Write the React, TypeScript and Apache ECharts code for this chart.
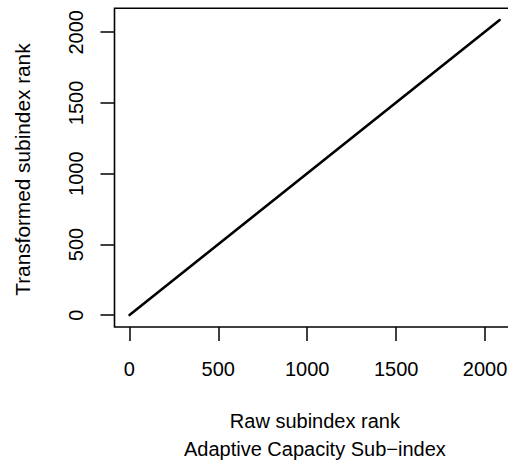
import React, { useEffect, useRef } from "react";
import * as echarts from "echarts";

const xTicks = [0, 500, 1000, 1500, 2000];
const yTicks = [0, 500, 1000, 1500, 2000];
const rawRank = [1, 2082];
const transformedRank = [1, 2086];
const xTitle = "Raw subindex rank\nAdaptive Capacity Sub\u2212index";
const yTitle = "Transformed subindex rank";

const FONT = "'Liberation Sans', Arial, Helvetica, sans-serif";
const FS = 20;

export default function App() {
  const ref = useRef<HTMLDivElement>(null);
  useEffect(() => {
    if (!ref.current) return;
    const chart = echarts.init(ref.current, undefined, { renderer: "svg" });
    const data = rawRank.map((x, i) => [x, transformedRank[i]]);
    const axisCommon = {
      type: "value" as const,
      min: -83.5,
      max: 2170,
      splitLine: { show: false },
      axisLine: { show: false, onZero: false },
      axisTick: {
        show: true,
        length: 14,
        lineStyle: { color: "#000", width: 1.5 },
      },
      nameLocation: "middle" as const,
      nameTextStyle: { fontFamily: FONT, fontSize: FS, color: "#000" },
    };
    const labelCommon = {
      fontFamily: FONT,
      fontSize: FS,
      color: "#000",
      formatter: (v: number) => String(v),
    };
    chart.setOption({
      animation: false,
      backgroundColor: "#fff",
      grid: {
        left: 114.5,
        top: 8.2,
        width: 400.8,
        height: 319.9,
        show: true,
        borderColor: "#000",
        borderWidth: 1.6,
        backgroundColor: "transparent",
      },
      xAxis: {
        ...axisCommon,
        name: xTitle,
        nameGap: 80,
        nameTextStyle: { ...axisCommon.nameTextStyle, lineHeight: 28 },
        axisTick: { ...axisCommon.axisTick, customValues: xTicks },
        axisLabel: { ...labelCommon, customValues: xTicks, margin: 32 },
      },
      yAxis: {
        ...axisCommon,
        name: yTitle,
        nameGap: 82,
        nameTextStyle: {
          ...axisCommon.nameTextStyle,
          fontSize: 20.8,
          padding: [0, 4, 0, 0],
        },
        axisTick: { ...axisCommon.axisTick, customValues: yTicks },
        axisLabel: { ...labelCommon, customValues: yTicks, rotate: 90, margin: 29 },
      },
      series: [
        {
          type: "line",
          data,
          showSymbol: false,
          symbol: "none",
          lineStyle: { color: "#000", width: 2.6, cap: "round" },
        },
      ],
    });
    return () => chart.dispose();
  }, []);
  return (
    <div
      style={{
        position: "fixed",
        left: 0,
        top: 0,
        width: 508,
        height: 468,
        overflow: "hidden",
        background: "#fff",
      }}
    >
      <div ref={ref} style={{ width: 520, height: 468 }} />
    </div>
  );
}
